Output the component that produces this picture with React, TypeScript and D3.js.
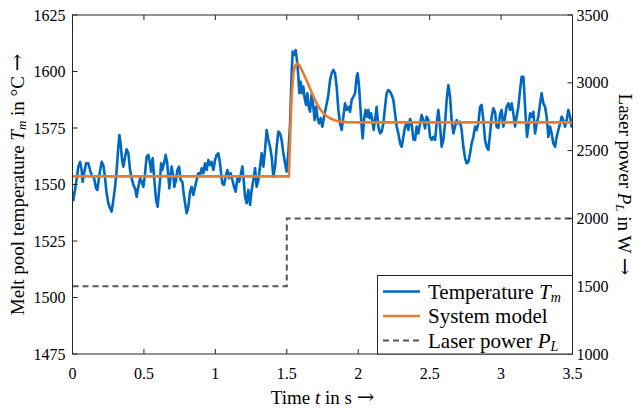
import React from 'react';
import * as d3 from 'd3';

// Measured melt pool temperature (s, °C)
const timeS = [0.001,0.006,0.025,0.041,0.053,0.064,0.071,0.081,0.095,0.111,0.123,0.134,0.151,0.165,0.174,0.188,0.204,0.216,0.228,0.239,0.251,0.263,0.274,0.286,0.298,0.309,0.321,0.328,0.337,0.347,0.356,0.368,0.379,0.391,0.403,0.414,0.426,0.438,0.449,0.461,0.473,0.484,0.496,0.508,0.519,0.531,0.543,0.550,0.561,0.573,0.585,0.596,0.613,0.620,0.629,0.643,0.652,0.662,0.671,0.678,0.687,0.694,0.706,0.713,0.725,0.734,0.746,0.757,0.769,0.778,0.788,0.799,0.811,0.823,0.834,0.846,0.858,0.869,0.881,0.893,0.904,0.916,0.928,0.939,0.951,0.963,0.974,0.986,0.998,1.009,1.021,1.033,1.040,1.049,1.061,1.072,1.084,1.096,1.107,1.119,1.131,1.142,1.154,1.166,1.177,1.189,1.198,1.208,1.219,1.231,1.243,1.254,1.266,1.278,1.289,1.301,1.313,1.324,1.336,1.348,1.359,1.371,1.383,1.394,1.406,1.418,1.429,1.441,1.453,1.464,1.476,1.488,1.499,1.512,1.523,1.534,1.541,1.553,1.562,1.574,1.581,1.588,1.597,1.607,1.616,1.625,1.635,1.644,1.653,1.663,1.674,1.686,1.695,1.705,1.714,1.726,1.737,1.749,1.761,1.775,1.789,1.803,1.814,1.826,1.838,1.849,1.861,1.873,1.884,1.896,1.908,1.919,1.931,1.943,1.954,1.966,1.978,1.989,1.996,2.006,2.015,2.024,2.031,2.043,2.052,2.062,2.071,2.080,2.090,2.099,2.108,2.118,2.129,2.141,2.153,2.164,2.176,2.188,2.199,2.211,2.223,2.234,2.246,2.258,2.269,2.281,2.293,2.304,2.316,2.328,2.339,2.351,2.363,2.374,2.386,2.398,2.409,2.421,2.433,2.444,2.456,2.468,2.479,2.491,2.503,2.514,2.526,2.538,2.549,2.561,2.573,2.584,2.596,2.608,2.619,2.631,2.643,2.654,2.666,2.678,2.689,2.701,2.713,2.724,2.736,2.748,2.759,2.771,2.783,2.794,2.806,2.818,2.829,2.841,2.853,2.864,2.876,2.888,2.899,2.911,2.923,2.934,2.946,2.958,2.969,2.981,2.993,3.004,3.016,3.028,3.039,3.051,3.063,3.074,3.086,3.098,3.109,3.121,3.133,3.144,3.156,3.163,3.172,3.182,3.191,3.203,3.214,3.226,3.238,3.249,3.261,3.273,3.284,3.296,3.308,3.319,3.331,3.343,3.354,3.366,3.378,3.389,3.401,3.413,3.424,3.436,3.448,3.459,3.471,3.483,3.494,3.500];
const tempC = [1546.8,1543.0,1550.6,1557.9,1560.0,1556.4,1551.2,1555.0,1559.4,1559.4,1556.4,1554.2,1552.8,1548.3,1547.6,1554.2,1560.0,1558.6,1552.8,1546.1,1541.7,1539.5,1538.0,1543.1,1549.0,1556.4,1566.7,1571.9,1568.2,1560.8,1557.9,1562.3,1565.6,1563.8,1556.4,1552.8,1549.8,1548.3,1544.6,1549.0,1552.8,1551.2,1549.0,1555.0,1562.3,1563.1,1559.4,1555.7,1561.6,1552.0,1543.1,1540.2,1552.0,1559.4,1556.4,1560.0,1563.1,1560.0,1553.5,1548.3,1554.2,1557.9,1553.5,1549.0,1552.0,1556.4,1557.9,1552.0,1551.2,1546.1,1541.7,1537.3,1540.2,1546.8,1549.0,1545.4,1549.0,1552.0,1555.0,1554.2,1557.2,1555.0,1559.4,1556.4,1560.8,1558.6,1560.0,1556.4,1560.8,1563.1,1563.8,1559.4,1555.0,1550.5,1549.8,1553.5,1556.4,1552.8,1555.0,1552.0,1549.0,1546.8,1552.8,1551.2,1554.2,1558.0,1552.0,1544.6,1541.7,1547.6,1541.0,1547.6,1552.0,1557.2,1549.0,1552.0,1557.9,1563.8,1557.9,1565.3,1574.1,1569.7,1566.7,1562.3,1553.5,1557.9,1566.7,1573.4,1572.6,1569.7,1563.8,1559.4,1555.7,1565.0,1577.0,1599.2,1608.8,1607.3,1609.5,1603.6,1597.7,1590.4,1595.5,1590.4,1593.3,1588.1,1585.2,1590.4,1584.4,1582.2,1590.0,1584.4,1578.5,1584.4,1580.0,1577.0,1579.3,1575.6,1580.0,1584.4,1588.8,1596.2,1599.2,1600.7,1599.2,1593.3,1583.0,1577.0,1574.1,1580.0,1585.9,1583.0,1584.4,1582.2,1587.4,1588.8,1590.4,1597.7,1599.2,1593.3,1584.4,1575.6,1570.4,1580.0,1583.0,1580.0,1583.0,1579.3,1581.5,1578.5,1574.1,1578.5,1584.4,1575.6,1572.6,1573.4,1577.0,1584.4,1590.4,1591.8,1591.1,1589.6,1587.4,1581.5,1575.6,1572.6,1568.2,1566.7,1571.1,1575.6,1577.0,1574.1,1579.0,1577.0,1570.0,1569.7,1575.6,1572.6,1577.0,1580.7,1578.5,1574.8,1580.0,1578.5,1571.1,1569.7,1571.1,1569.7,1577.0,1583.0,1575.6,1566.7,1569.7,1577.0,1587.4,1594.0,1588.8,1578.5,1572.6,1575.6,1578.5,1577.0,1577.8,1574.1,1566.7,1561.6,1559.4,1560.0,1563.8,1568.2,1571.1,1575.6,1574.1,1577.0,1584.4,1585.2,1578.5,1569.7,1566.7,1565.3,1572.6,1580.0,1583.7,1582.0,1575.5,1575.0,1581.0,1583.0,1575.6,1580.0,1584.4,1585.9,1583.0,1585.9,1581.5,1575.6,1580.0,1584.4,1591.8,1597.7,1597.7,1590.4,1580.0,1571.1,1575.6,1581.5,1580.0,1582.2,1572.6,1577.0,1580.0,1585.9,1590.4,1585.9,1584.4,1580.0,1571.1,1575.6,1572.6,1568.2,1566.7,1571.1,1574.1,1577.0,1580.0,1578.5,1575.6,1578.5,1583.0,1580.0,1575.6,1579.0];

// System model response (s, °C)
const modelTime = [0, 1.515, 1.518, 1.526, 1.534, 1.546, 1.557, 1.574, 1.590, 1.616, 1.640, 1.662, 1.685, 1.709, 1.732, 1.756, 1.780, 1.802, 1.835, 1.872, 1.92, 2.0, 3.5];
const modelTemp = [1553.6, 1553.6, 1560.8, 1576.0, 1588.8, 1599.2, 1602.5, 1603.6, 1602.6, 1599.2, 1595.8, 1592.6, 1589.2, 1585.9, 1583.4, 1581.5, 1580.2, 1579.3, 1578.4, 1577.8, 1577.6, 1577.5, 1577.5];

// Laser power (s, W)
const powerTime = [0, 1.5, 1.5, 3.5];
const powerW = [1500, 1500, 2000, 2000];

const xTicks = [0, 0.5, 1, 1.5, 2, 2.5, 3, 3.5];
const xTickLabels = ['0', '0.5', '1', '1.5', '2', '2.5', '3', '3.5'];
const leftTicks = [1475, 1500, 1525, 1550, 1575, 1600, 1625];
const rightTicks = [1000, 1500, 2000, 2500, 3000, 3500];

const W = 638;
const H = 410;
const L = 72.5, R = 572.5, T = 15, B = 354;

const AX = '#262626';
const BLUE = '#0068C0';
const ORANGE = '#EA7A2C';
const GRAY = '#555555';
const FONT = '"Liberation Serif", "Times New Roman", serif';
const ARROW_FONT = '"DejaVu Serif", serif';

export default function App() {
  const x = d3.scaleLinear().domain([0, 3.5]).range([L, R]);
  const yL = d3.scaleLinear().domain([1475, 1625]).range([B, T]);
  const yR = d3.scaleLinear().domain([1000, 3500]).range([B, T]);

  const line = d3.line<[number, number]>().x(d => x(d[0])).y(d => d[1]);
  const tempPath = line(timeS.map((t, i) => [t, yL(tempC[i])]));
  const modelPath = line(modelTime.map((t, i) => [t, yL(modelTemp[i])]));
  const powerPath = line(powerTime.map((t, i) => [t, yR(powerW[i])]));

  const tk = 5;
  const legX = 377.5, legY = 275.5, legW = R - legX, legH = B - legY;
  const rows = [291.5, 316, 340.5];

  return (
    <svg width={W} height={H} style={{ position: 'absolute', left: 0, top: 0, background: '#fff' }} fontFamily={FONT}>
      <rect x={0} y={0} width={W} height={H} fill="#fff" />
      <defs>
        <clipPath id="plot"><rect x={L} y={T} width={R - L} height={B - T} /></clipPath>
      </defs>
      <g clipPath="url(#plot)">
        <path d={powerPath || ''} fill="none" stroke={GRAY} strokeWidth={2} strokeDasharray="6,4" />
        <path d={tempPath || ''} fill="none" stroke={BLUE} strokeWidth={2.6} strokeLinejoin="round" />
        <path d={modelPath || ''} fill="none" stroke={ORANGE} strokeWidth={2.6} strokeLinejoin="round" />
      </g>
      <rect x={L} y={T} width={R - L} height={B - T} fill="none" stroke={AX} strokeWidth={1} />
      {xTicks.map((v, i) => (
        <g key={'x' + i}>
          <line x1={x(v)} x2={x(v)} y1={B} y2={B - tk} stroke={AX} />
          <line x1={x(v)} x2={x(v)} y1={T} y2={T + tk} stroke={AX} />
          <text x={x(v)} y={B + 19} textAnchor="middle" dominantBaseline="central" fontSize={16} fill="#000">{xTickLabels[i]}</text>
        </g>
      ))}
      {leftTicks.map((v, i) => (
        <g key={'l' + i}>
          <line x1={L} x2={L + tk} y1={yL(v)} y2={yL(v)} stroke={AX} />
          <text x={L - 7} y={yL(v)} textAnchor="end" dominantBaseline="central" fontSize={16} fill="#000">{v}</text>
        </g>
      ))}
      {rightTicks.map((v, i) => (
        <g key={'r' + i}>
          <line x1={R} x2={R - tk} y1={yR(v)} y2={yR(v)} stroke={AX} />
          <text x={R + 4} y={yR(v)} textAnchor="start" dominantBaseline="central" fontSize={16} fill="#000">{v}</text>
        </g>
      ))}
      <text x={(L + R) / 2} y={397} textAnchor="middle" dominantBaseline="central" fontSize={19} fill="#000">
        Time <tspan fontStyle="italic">t</tspan> in s <tspan fontFamily={ARROW_FONT} fontSize={21}>→</tspan>
      </text>
      <text transform={`translate(17,${(T + B) / 2}) rotate(-90)`} textAnchor="middle" dominantBaseline="central" fontSize={19} fill="#000">
        Melt pool temperature <tspan fontStyle="italic">T</tspan><tspan fontStyle="italic" fontSize={13} dy={4}>m</tspan><tspan dy={-4}> in °C </tspan><tspan fontFamily={ARROW_FONT} fontSize={21}>→</tspan>
      </text>
      <text transform={`translate(625,${(T + B) / 2}) rotate(90)`} textAnchor="middle" dominantBaseline="central" fontSize={19} fill="#000">
        Laser power <tspan fontStyle="italic">P</tspan><tspan fontStyle="italic" fontSize={13} dy={4}>L</tspan><tspan dy={-4}> in W </tspan><tspan fontFamily={ARROW_FONT} fontSize={21}>→</tspan>
      </text>
      <rect x={legX} y={legY} width={legW} height={legH} fill="#fff" stroke={AX} strokeWidth={1} />
      <line x1={383} x2={420} y1={rows[0]} y2={rows[0]} stroke={BLUE} strokeWidth={2.6} />
      <line x1={383} x2={420} y1={rows[1]} y2={rows[1]} stroke={ORANGE} strokeWidth={2.6} />
      <line x1={383} x2={420} y1={rows[2]} y2={rows[2]} stroke={GRAY} strokeWidth={2} strokeDasharray="6,4" />
      <text x={428} y={rows[0]} dominantBaseline="central" fontSize={21} fill="#000">
        Temperature <tspan fontStyle="italic">T</tspan><tspan fontStyle="italic" fontSize={14} dy={5}>m</tspan>
      </text>
      <text x={428} y={rows[1]} dominantBaseline="central" fontSize={21} fill="#000">System model</text>
      <text x={428} y={rows[2]} dominantBaseline="central" fontSize={21} fill="#000">
        Laser power <tspan fontStyle="italic">P</tspan><tspan fontStyle="italic" fontSize={14} dy={5}>L</tspan>
      </text>
    </svg>
  );
}
